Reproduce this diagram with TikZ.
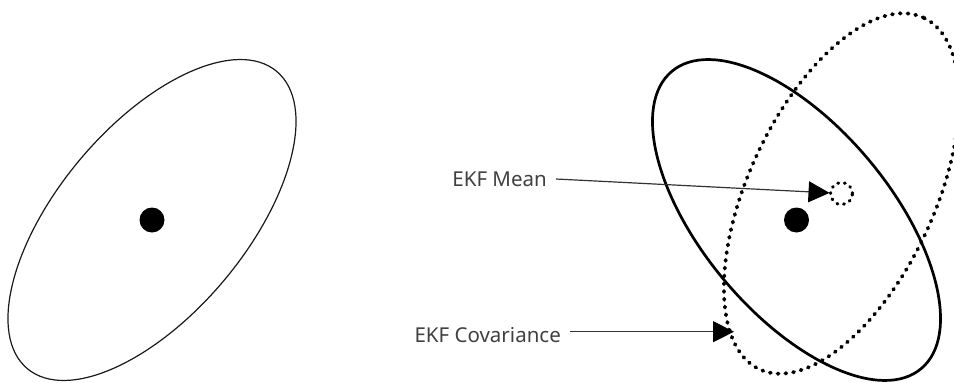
\documentclass[tikz,border=0pt]{standalone}
\usepackage{fontspec}
\setmainfont{Noto Sans}
\usetikzlibrary{arrows.meta}
\begin{document}
\begin{tikzpicture}[x=1pt,y=-1pt,
  ell/.style={draw=black!90, line width=1.2pt},
  ellthick/.style={draw=black, line width=2.7pt},
  elldot/.style={draw=black, line width=3.8pt, line cap=round, dash pattern=on 1pt off 6.8pt},
  meandot/.style={circle, fill=black, minimum size=25pt, inner sep=0pt, outer sep=0pt},
  meanring/.style={circle, draw=black, line width=3.2pt, line cap=round, dash pattern=on 0.8pt off 5.9pt, minimum size=22pt, inner sep=0pt, outer sep=1pt},
  lbl/.style={text=black!75, font=\fontsize{20.5}{24}\selectfont, inner xsep=9pt, inner ysep=0pt},
  pointer/.style={draw=black!80, line width=1.2pt, -{Triangle[length=21pt,width=21pt,color=black]}}
]
\clip (0,0) rectangle (954,383);
% left: single covariance ellipse with mean
\coordinate (lc) at (152,220);
\draw[ell, rotate around={50:(lc)}] (lc) ellipse [x radius=194pt, y radius=94pt];
\node[meandot] (lmean) at (lc) {};
% right: true ellipse, EKF ellipse
\coordinate (rc) at (796.5,220);
\coordinate (ec) at (841.5,193.5);
\draw[ellthick, rotate around={-50:(rc)}] (rc) ellipse [x radius=194pt, y radius=94pt];
\draw[elldot, rotate around={65:(ec)}] (ec) ellipse [x radius=194pt, y radius=93pt];
\node[meandot] (rmean) at (rc) {};
\node[meanring] (ekfmean) at (ec) {};
% labels
\node[lbl, anchor=east] (meanlbl) at (556,179) {EKF Mean};
\node[lbl, anchor=east] (covlbl) at (570,335) {EKF Covariance};
\coordinate (covtip) at (734,331.7);
\draw[pointer] (meanlbl.east) -- (ekfmean);
\draw[pointer] (covlbl.east |- covtip) -- (covtip);
\end{tikzpicture}
\end{document}
